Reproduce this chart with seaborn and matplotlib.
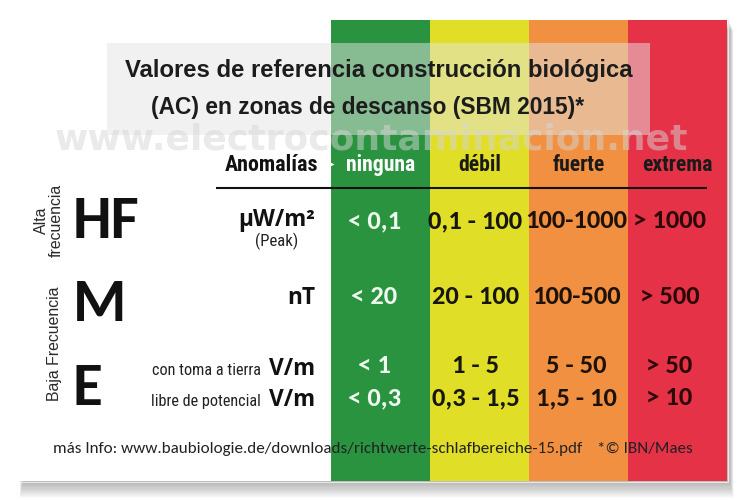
import numpy as np
import pandas as pd
import seaborn as sns
import matplotlib
matplotlib.use("Agg")
import matplotlib.pyplot as plt
from matplotlib import font_manager, transforms
from matplotlib.colors import ListedColormap
from matplotlib.patches import Rectangle

# ---------------- data ----------------
levels = ['ninguna', 'débil', 'fuerte', 'extrema']
level_colors = ['#2a9340', '#e0de27', '#f09040', '#e53246']
value_colors = ['#eef8ee', '#16160e', '#1e1208', '#2c0909']
header_label = 'Anomalías'
field_letters = ['HF', 'M', 'E']
band_labels = ['Alta\nfrecuencia', 'Baja Frecuencia']
row_units = ['µW/m²', 'nT', 'V/m', 'V/m']
row_notes = ['(Peak)', '', 'con toma a tierra', 'libre de potencial']
hf_values = ['< 0,1', '0,1 - 100', '100-1000', '> 1000']
m_values = ['< 20', '20 - 100', '100-500', '> 500']
e_ground_values = ['< 1', '1 - 5', '5 - 50', '> 50']
e_free_values = ['< 0,3', '0,3 - 1,5', '1,5 - 10', '> 10']
title_lines = ['Valores de referencia construcción biológica',
               '(AC) en zonas de descanso (SBM 2015)*']
watermark = 'www.electrocontaminacion.net'
footer_src = 'más Info: www.baubiologie.de/downloads/richtwerte-schlafbereiche-15.pdf'
footer_copy = '*© IBN/Maes'

# ---------------- fonts ----------------
sns.set_theme(style='white')
avail = {f.name for f in font_manager.fontManager.ttflist}


def pick(*names):
    for n in names:
        if n in avail:
            return n
    return 'DejaVu Sans'


ARIAL = pick('Liberation Sans', 'Arial', 'DejaVu Sans')
NARROW = pick('Liberation Sans Narrow', 'Roboto Condensed', 'Roboto', 'Liberation Sans')
CALIB = pick('Carlito', 'Lato', 'Open Sans')
SEGOE = pick('Open Sans', 'Noto Sans', 'Lato')
WIDE = pick('DejaVu Sans', 'Liberation Sans')
plt.rcParams['font.family'] = [ARIAL, 'DejaVu Sans']

# ---------------- figure ----------------
W, H = 745, 500
fig = plt.figure(figsize=(W / 100, H / 100), dpi=100)
fig.patch.set_facecolor('white')
R = fig.canvas.get_renderer()


def pix_axes(l, t, r, b, z):
    return fig.add_axes([l / W, 1 - b / H, (r - l) / W, (b - t) / H], zorder=z)


def fit(t, target, along='w'):
    bb = t.get_window_extent(renderer=R)
    cur = bb.width if along == 'w' else bb.height
    t.set_fontsize(t.get_fontsize() * target / cur)
    return t.get_fontsize()


CARD = (20, 20, 727, 481)

# background: card + soft shadow
ax_bg = fig.add_axes([0, 0, 1, 1], zorder=0)
ax_bg.set_xlim(0, W)
ax_bg.set_ylim(H, 0)
ax_bg.axis('off')
for d in range(1, 15):
    ax_bg.add_patch(Rectangle((CARD[0] + 3 - d * 0.25, CARD[1] + 2 + d * 0.6),
                              CARD[2] - CARD[0] + d * 0.5, CARD[3] - CARD[1] + d * 0.5,
                              fc='#000000', ec='none', alpha=0.018))
ax_bg.add_patch(Rectangle((CARD[0] - 0.5, CARD[1] - 0.5), CARD[2] - CARD[0] + 1,
                          CARD[3] - CARD[1] + 1, fc='none', ec='#e6e6e6', lw=0.8))
ax_bg.add_patch(Rectangle((CARD[0], CARD[1]), CARD[2] - CARD[0], CARD[3] - CARD[1],
                          fc='white', ec='none'))

# colored level bands via seaborn heatmap
ax_hm = pix_axes(331, CARD[1], CARD[2], CARD[3], 1)
band_df = pd.DataFrame([np.arange(len(levels))], columns=levels)
sns.heatmap(band_df, cmap=ListedColormap(level_colors), vmin=-0.5, vmax=len(levels) - 0.5,
            cbar=False, ax=ax_hm, xticklabels=False, yticklabels=False, linewidths=0)
ax_hm.axis('off')

# foreground overlay
ax = fig.add_axes([0, 0, 1, 1], zorder=2)
ax.patch.set_alpha(0)
ax.set_xlim(0, W)
ax.set_ylim(H, 0)
ax.axis('off')
col = transforms.blended_transform_factory(ax_hm.transData, ax.transData)

# title box and watermark
ax.add_patch(Rectangle((107, 43), 543, 92, fc='#e4e4e4', ec='none', alpha=0.5))
ax.text(371, 149, watermark, ha='center', va='baseline', family=WIDE,
        weight='bold', color='#d6d6d6', alpha=0.5, fontsize=26)
t1 = ax.text(379, 77, title_lines[0], ha='center', va='baseline', family=ARIAL,
             weight='bold', color='#1c1c1c', fontsize=15)
fit(t1, 512)
t2 = ax.text(368, 114, title_lines[1], ha='center', va='baseline', family=ARIAL,
             weight='bold', color='#1c1c1c', fontsize=15)
fit(t2, 435)

# header row
th = ax.text(318, 171, header_label, ha='right', va='baseline', family=NARROW,
             weight='bold', color='#111111', fontsize=14)
fit(th, 94)
probe = ax.text(0, 0, levels[3], family=NARROW, weight='bold', fontsize=14)
lvl_size = fit(probe, 71)
probe.remove()
for i, name in enumerate(levels):
    ax.text(i + 0.5, 171, name, transform=col, ha='center', va='baseline',
            family=NARROW, weight='bold', fontsize=lvl_size,
            color='white' if i == 0 else '#1a1a1a')
ax.plot([216, 707], [188, 188], color='#111111', lw=1.5, solid_capstyle='butt')
ax.plot([0], [164], transform=col, marker='>', ms=5, color='white', mec='none')

# field letters
for letter, base in zip(field_letters, [238, 321, 405]):
    ax.text(73, base, letter, ha='left', va='baseline', family=CALIB, weight='bold',
            color='#111111', fontsize=44)

# band labels (rotated)
tb1 = ax.text(49, 220, band_labels[0], ha='center', va='center', rotation=90,
              multialignment='center', family=ARIAL, color='#2a2a2a', fontsize=10,
              linespacing=1.0)
tb2 = ax.text(54, 344, band_labels[1], ha='center', va='center', rotation=90,
              family=ARIAL, color='#2a2a2a', fontsize=10)
s = fit(tb2, 115, along='h')
tb1.set_fontsize(s)

# units and notes
unit_base = [226, 304, 375, 406]
tu = ax.text(315, unit_base[0], row_units[0], ha='right', va='baseline', family=SEGOE,
             weight='bold', color='#111111', fontsize=15)
unit_size = fit(tu, 77)
for u, b in zip(row_units[1:], unit_base[1:]):
    ax.text(315, b, u, ha='right', va='baseline', family=SEGOE, weight='bold',
            color='#111111', fontsize=unit_size)
tp = ax.text(277, 246, row_notes[0], ha='center', va='baseline', family=NARROW,
             color='#222222', fontsize=10)
fit(tp, 43)
tn = ax.text(261, unit_base[3], row_notes[3], ha='right', va='baseline', family=NARROW,
             color='#222222', fontsize=10)
note_size = fit(tn, 110)
ax.text(261, unit_base[2], row_notes[2], ha='right', va='baseline', family=NARROW,
        color='#222222', fontsize=note_size)

# values
value_base = [228, 304, 373, 405]
text_shift = [-0.06, -0.04, -0.02, -0.08]   # small offset from column centre
probe = ax.text(0, 0, hf_values[1], family=CALIB, weight='bold', fontsize=16)
val_size = fit(probe, 95)
probe.remove()
for row, b in zip([hf_values, m_values, e_ground_values, e_free_values], value_base):
    for i, v in enumerate(row):
        ax.text(i + 0.5 + text_shift[i], b, v, transform=col, ha='center', va='baseline',
                family=CALIB, weight='bold', color=value_colors[i], fontsize=val_size)

# footer
tf = ax.text(53, 453, footer_src, ha='left', va='baseline', family=CALIB,
             color='#222222', fontsize=11)
fs = fit(tf, 527)
ax.text(597, 453, footer_copy, ha='left', va='baseline', family=CALIB,
        color='#222222', fontsize=fs)

fig.savefig('out.png', dpi=100)
